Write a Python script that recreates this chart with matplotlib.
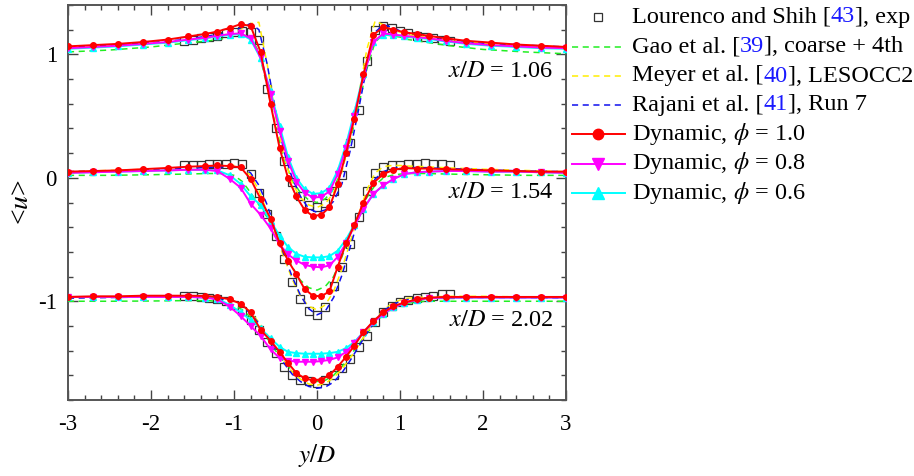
import numpy as np
import matplotlib
matplotlib.use("Agg")
import matplotlib.pyplot as plt
from matplotlib.lines import Line2D
from matplotlib.ticker import MultipleLocator

plt.rcParams['font.family'] = 'Liberation Serif'
plt.rcParams['mathtext.fontset'] = 'stix'
plt.rcParams['axes.unicode_minus'] = False

# ---- mean streamwise velocity profiles behind the cylinder ----
# profiles at x/D = 1.06, 1.54, 2.02 are shifted down by 0, 1, 2
stations = ["1.06", "1.54", "2.02"]
offsets = [0.0, -1.0, -2.0]
label_y = [0.86, -0.12, -1.155]

# Lourenco and Shih, experiment
y_exp = [-1.6, -1.5, -1.4, -1.3, -1.2, -1.1, -1.0, -0.9, -0.8, -0.7, -0.6, -0.5, -0.4, -0.3, -0.2, -0.1, 0.0,
         0.1, 0.2, 0.3, 0.4, 0.5, 0.6, 0.7, 0.8, 0.9, 1.0, 1.1, 1.2, 1.3, 1.4, 1.5, 1.6]
exp_106 = [1.11, 1.12, 1.13, 1.14, 1.15, 1.17, 1.18, 1.19, 1.18, 1.12, 0.72, 0.40, 0.14, -0.03, -0.15, -0.22, -0.24,
           -0.20, -0.11, 0.02, 0.28, 0.55, 0.95, 1.20, 1.23, 1.21, 1.19, 1.17, 1.15, 1.14, 1.13, 1.12, 1.11]
exp_154 = [1.10, 1.10, 1.105, 1.11, 1.11, 1.115, 1.12, 1.11, 1.03, 0.88, 0.71, 0.53, 0.34, 0.16, 0.02, -0.08, -0.11,
           -0.05, 0.12, 0.28, 0.46, 0.68, 0.89, 1.04, 1.09, 1.10, 1.105, 1.11, 1.115, 1.12, 1.115, 1.11, 1.105]
exp_202 = [1.045, 1.04, 1.035, 1.025, 1.015, 1.0, 0.97, 0.92, 0.85, 0.77, 0.67, 0.58, 0.47, 0.40, 0.365, 0.35, 0.34,
           0.36, 0.40, 0.46, 0.53, 0.63, 0.72, 0.83, 0.91, 0.96, 0.99, 1.01, 1.025, 1.035, 1.045, 1.055, 1.06]

# reference LES results
y_ref = [-3.0, -2.5, -2.0, -1.6, -1.3, -1.1, -1.0, -0.9, -0.8, -0.7, -0.6, -0.5, -0.4, -0.3, -0.2, -0.1, 0.0,
         0.1, 0.2, 0.3, 0.4, 0.5, 0.6, 0.7, 0.8, 0.9, 1.0, 1.1, 1.3, 1.6, 2.0, 2.5, 3.0]
gao_106 = [1.02, 1.035, 1.06, 1.09, 1.11, 1.13, 1.145, 1.16, 1.14, 1.02, 0.74, 0.42, 0.16, -0.02, -0.12, -0.18, -0.20,
           -0.17, -0.09, 0.07, 0.30, 0.58, 0.88, 1.10, 1.16, 1.15, 1.14, 1.12, 1.10, 1.07, 1.04, 1.02, 1.005]
gao_154 = [1.02, 1.02, 1.025, 1.03, 1.035, 1.035, 1.02, 0.97, 0.88, 0.78, 0.68, 0.56, 0.42, 0.28, 0.17, 0.11, 0.09,
           0.12, 0.20, 0.36, 0.54, 0.70, 0.84, 0.94, 1.0, 1.02, 1.03, 1.035, 1.035, 1.03, 1.025, 1.02, 1.02]
gao_202 = [1.0, 1.0, 1.002, 1.005, 1.005, 0.99, 0.97, 0.93, 0.87, 0.79, 0.70, 0.60, 0.51, 0.44, 0.39, 0.36, 0.35,
           0.36, 0.40, 0.47, 0.56, 0.65, 0.74, 0.82, 0.89, 0.94, 0.97, 0.985, 1.0, 1.0, 1.0, 1.0, 1.0]
meyer_106 = [1.06, 1.075, 1.09, 1.11, 1.135, 1.16, 1.18, 1.21, 1.25, 1.26, 0.92, 0.50, 0.18, -0.04, -0.16, -0.22, -0.24,
             -0.21, -0.12, 0.05, 0.32, 0.66, 1.04, 1.27, 1.24, 1.20, 1.18, 1.16, 1.14, 1.11, 1.09, 1.075, 1.06]
meyer_154 = [1.05, 1.06, 1.07, 1.08, 1.09, 1.10, 1.10, 1.08, 1.02, 0.90, 0.72, 0.54, 0.36, 0.18, 0.04, -0.04, -0.07,
             -0.03, 0.08, 0.26, 0.48, 0.70, 0.90, 1.04, 1.09, 1.10, 1.10, 1.095, 1.09, 1.08, 1.07, 1.06, 1.05]
meyer_202 = [1.03, 1.035, 1.04, 1.045, 1.04, 1.025, 1.005, 0.97, 0.91, 0.83, 0.73, 0.62, 0.52, 0.43, 0.37, 0.33, 0.32,
             0.335, 0.38, 0.45, 0.54, 0.64, 0.75, 0.85, 0.93, 0.98, 1.01, 1.025, 1.035, 1.04, 1.04, 1.035, 1.03]
rajani_106 = [1.06, 1.075, 1.095, 1.12, 1.15, 1.17, 1.19, 1.22, 1.25, 1.20, 0.92, 0.55, 0.22, 0.0, -0.15, -0.25, -0.28,
              -0.26, -0.19, -0.05, 0.22, 0.55, 0.90, 1.18, 1.24, 1.22, 1.19, 1.17, 1.15, 1.12, 1.09, 1.075, 1.06]
rajani_154 = [1.05, 1.055, 1.065, 1.075, 1.085, 1.09, 1.09, 1.08, 1.04, 0.94, 0.78, 0.58, 0.38, 0.20, 0.05, -0.06, -0.11,
              -0.08, 0.03, 0.21, 0.44, 0.67, 0.86, 0.99, 1.05, 1.075, 1.085, 1.085, 1.08, 1.075, 1.065, 1.055, 1.05]
rajani_202 = [1.025, 1.03, 1.035, 1.035, 1.03, 1.015, 1.0, 0.96, 0.90, 0.82, 0.72, 0.61, 0.50, 0.41, 0.35, 0.31, 0.295,
              0.305, 0.345, 0.42, 0.52, 0.63, 0.74, 0.84, 0.92, 0.97, 1.0, 1.015, 1.025, 1.03, 1.03, 1.03, 1.025]

# present dynamic model, three filter ratios phi
y_dyn = [-3.0, -2.7, -2.4, -2.1, -1.8, -1.55, -1.35, -1.2, -1.05, -0.92, -0.8, -0.68, -0.56, -0.45, -0.35, -0.25,
         -0.15, -0.05, 0.05, 0.15, 0.25, 0.35, 0.45, 0.56, 0.68, 0.8, 0.92, 1.05, 1.2, 1.35, 1.55, 1.8, 2.1, 2.4,
         2.7, 3.0]
dyn10_106 = [1.065, 1.075, 1.085, 1.10, 1.12, 1.145, 1.165, 1.185, 1.215, 1.245, 1.23, 1.02, 0.60, 0.24, 0.00, -0.15,
             -0.26, -0.31, -0.30, -0.24, -0.05, 0.20, 0.48, 0.84, 1.16, 1.22, 1.20, 1.18, 1.165, 1.15, 1.13, 1.11,
             1.095, 1.08, 1.07, 1.06]
dyn10_154 = [1.05, 1.055, 1.06, 1.07, 1.08, 1.09, 1.095, 1.10, 1.095, 1.085, 0.99, 0.83, 0.67, 0.47, 0.33, 0.22,
             0.10, 0.045, 0.04, 0.08, 0.28, 0.47, 0.62, 0.80, 0.96, 1.03, 1.065, 1.08, 1.075, 1.075, 1.07, 1.065,
             1.06, 1.055, 1.05, 1.05]
dyn10_202 = [1.035, 1.04, 1.04, 1.045, 1.045, 1.045, 1.043, 1.035, 1.015, 0.98, 0.91, 0.77, 0.68, 0.59, 0.50, 0.42,
             0.375, 0.36, 0.365, 0.40, 0.47, 0.55, 0.64, 0.75, 0.84, 0.91, 0.96, 0.99, 1.015, 1.03, 1.035, 1.035,
             1.035, 1.035, 1.035, 1.035]
dyn08_106 = [1.05, 1.06, 1.07, 1.085, 1.10, 1.12, 1.135, 1.15, 1.165, 1.17, 1.13, 0.98, 0.68, 0.38, 0.14, -0.03,
             -0.12, -0.16, -0.155, -0.11, 0.03, 0.24, 0.50, 0.82, 1.10, 1.17, 1.16, 1.15, 1.14, 1.13, 1.11, 1.09,
             1.075, 1.065, 1.055, 1.05]
dyn08_154 = [1.04, 1.045, 1.05, 1.055, 1.06, 1.065, 1.065, 1.055, 0.99, 0.92, 0.79, 0.70, 0.59, 0.46, 0.38, 0.33,
             0.295, 0.28, 0.275, 0.29, 0.36, 0.47, 0.61, 0.75, 0.87, 0.94, 0.99, 1.03, 1.045, 1.05, 1.055, 1.055,
             1.05, 1.05, 1.045, 1.04]
dyn08_202 = [1.035, 1.035, 1.035, 1.035, 1.035, 1.035, 1.03, 1.015, 0.955, 0.88, 0.80, 0.72, 0.61, 0.54, 0.52, 0.51,
             0.51, 0.51, 0.515, 0.525, 0.545, 0.59, 0.66, 0.75, 0.83, 0.90, 0.95, 0.985, 1.01, 1.025, 1.03, 1.03,
             1.03, 1.03, 1.03, 1.03]
dyn06_106 = [1.045, 1.055, 1.065, 1.08, 1.095, 1.115, 1.13, 1.145, 1.16, 1.165, 1.12, 0.97, 0.70, 0.42, 0.17, 0.0,
             -0.09, -0.13, -0.125, -0.08, 0.06, 0.27, 0.53, 0.84, 1.10, 1.16, 1.155, 1.145, 1.135, 1.125, 1.105,
             1.085, 1.07, 1.06, 1.05, 1.045]
dyn06_154 = [1.04, 1.045, 1.05, 1.055, 1.06, 1.065, 1.065, 1.06, 1.02, 0.95, 0.85, 0.78, 0.65, 0.53, 0.44, 0.385,
             0.36, 0.355, 0.355, 0.365, 0.41, 0.50, 0.62, 0.75, 0.87, 0.94, 0.99, 1.03, 1.045, 1.05, 1.055, 1.055,
             1.05, 1.05, 1.045, 1.04]
dyn06_202 = [1.035, 1.035, 1.035, 1.035, 1.035, 1.035, 1.03, 1.02, 0.97, 0.91, 0.85, 0.78, 0.70, 0.63, 0.59, 0.58,
             0.575, 0.575, 0.575, 0.58, 0.59, 0.62, 0.67, 0.75, 0.83, 0.90, 0.95, 0.985, 1.01, 1.025, 1.03, 1.03,
             1.03, 1.03, 1.03, 1.03]

exp_all = [exp_106, exp_154, exp_202]
gao_all = [gao_106, gao_154, gao_202]
meyer_all = [meyer_106, meyer_154, meyer_202]
rajani_all = [rajani_106, rajani_154, rajani_202]
dyn10_all = [dyn10_106, dyn10_154, dyn10_202]
dyn08_all = [dyn08_106, dyn08_154, dyn08_202]
dyn06_all = [dyn06_106, dyn06_154, dyn06_202]

green = '#22ee22'
yellow = '#ffee00'
blue = '#1010ee'
red = '#ff0000'
magenta = '#ff00ff'
cyan = '#00ffff'
dash = (4, 3)
fs = 17.5

fig = plt.figure(figsize=(9.14, 4.76), dpi=100)
ax = fig.add_axes([68/914, 76/476, 498/914, 395/476])

for k in range(3):
    off = offsets[k]
    ax.plot(y_exp, np.array(exp_all[k]) + off, ls='none', marker='s', ms=5.5, mfc='none',
            mec='#333333', mew=0.9, zorder=3)
    ax.plot(y_ref, np.array(gao_all[k]) + off, color=green, lw=1.1, dashes=dash, zorder=4)
    ax.plot(y_ref, np.array(meyer_all[k]) + off, color=yellow, lw=1.1, dashes=dash, zorder=4)
    ax.plot(y_ref, np.array(rajani_all[k]) + off, color=blue, lw=1.1, dashes=dash, zorder=5)
    ax.plot(y_dyn, np.array(dyn06_all[k]) + off, color=cyan, lw=1.4, marker='^', ms=4, zorder=6)
    ax.plot(y_dyn, np.array(dyn08_all[k]) + off, color=magenta, lw=1.4, marker='v', ms=4, zorder=7)
    ax.plot(y_dyn, np.array(dyn10_all[k]) + off, color=red, lw=1.4, marker='o', ms=4, zorder=8)
    ax.text(2.85, label_y[k], '$x/D$ = ' + stations[k], ha='right', va='center', fontsize=fs)

ax.set_xlim(-3, 3)
ax.set_ylim(-1.8, 1.4)
ax.xaxis.set_major_locator(MultipleLocator(1))
ax.xaxis.set_minor_locator(MultipleLocator(0.2))
ax.yaxis.set_major_locator(MultipleLocator(1))
ax.yaxis.set_minor_locator(MultipleLocator(0.2))
ax.tick_params(which='both', direction='in', top=True, right=True, color='#444444', width=1.0,
               labelsize=16.5)
ax.tick_params(axis='x', pad=10)
ax.tick_params(axis='y', pad=8)
ax.tick_params(which='major', length=7)
ax.tick_params(which='minor', length=3.5)
for s in ax.spines.values():
    s.set_color('#555555')
    s.set_linewidth(1.4)
ax.set_xlabel('$y/D$', fontsize=18, labelpad=5)
ax.set_ylabel('<$u$>', fontsize=20, labelpad=3)

# hand-built legend so the reference numbers can be coloured
rows = [
    (['Lourenco and Shih [', '43', '], exp'], dict(ls='none', marker='s', ms=6, mfc='none', mec='#333333', mew=0.9)),
    (['Gao et al. [', '39', '], coarse + 4th'], dict(color=green, lw=1.1, dashes=dash)),
    (['Meyer et al. [', '40', '], LESOCC2'], dict(color=yellow, lw=1.1, dashes=dash)),
    (['Rajani et al. [', '41', '], Run 7'], dict(color=blue, lw=1.1, dashes=dash)),
    ([r'Dynamic, $\phi$ = 1.0'], dict(color=red, lw=1.4, marker='o', ms=7.5)),
    ([r'Dynamic, $\phi$ = 0.8'], dict(color=magenta, lw=1.4, marker='v', ms=8)),
    ([r'Dynamic, $\phi$ = 0.6'], dict(color=cyan, lw=1.4, marker='^', ms=8)),
]
row_px = [17, 46.5, 76, 105, 134, 163.5, 193]
W, H = 914.0, 476.0
for (pieces, style), ypx in zip(rows, row_px):
    yf = 1 - ypx / H
    if style.get('ls') == 'none':
        fig.add_artist(Line2D([598 / W], [yf], transform=fig.transFigure, **style))
    else:
        st = {k: v for k, v in style.items() if k not in ('marker', 'ms')}
        fig.add_artist(Line2D([572 / W, 625 / W], [yf, yf], transform=fig.transFigure, **st))
        if 'marker' in style:
            fig.add_artist(Line2D([598 / W], [yf], transform=fig.transFigure, ls='none',
                                  marker=style['marker'], ms=style['ms'], color=style['color']))
    prev = ax.annotate(pieces[0], xy=(632 / W, yf), xycoords='figure fraction', ha='left', va='center',
                       fontsize=fs, annotation_clip=False)
    for i, p in enumerate(pieces[1:]):
        prev = ax.annotate(p, xy=(1, 0), xycoords=prev, ha='left', va='bottom', fontsize=fs,
                           color='#1a1aff' if i == 0 else 'black', annotation_clip=False)

fig.savefig('out.png', dpi=100)
